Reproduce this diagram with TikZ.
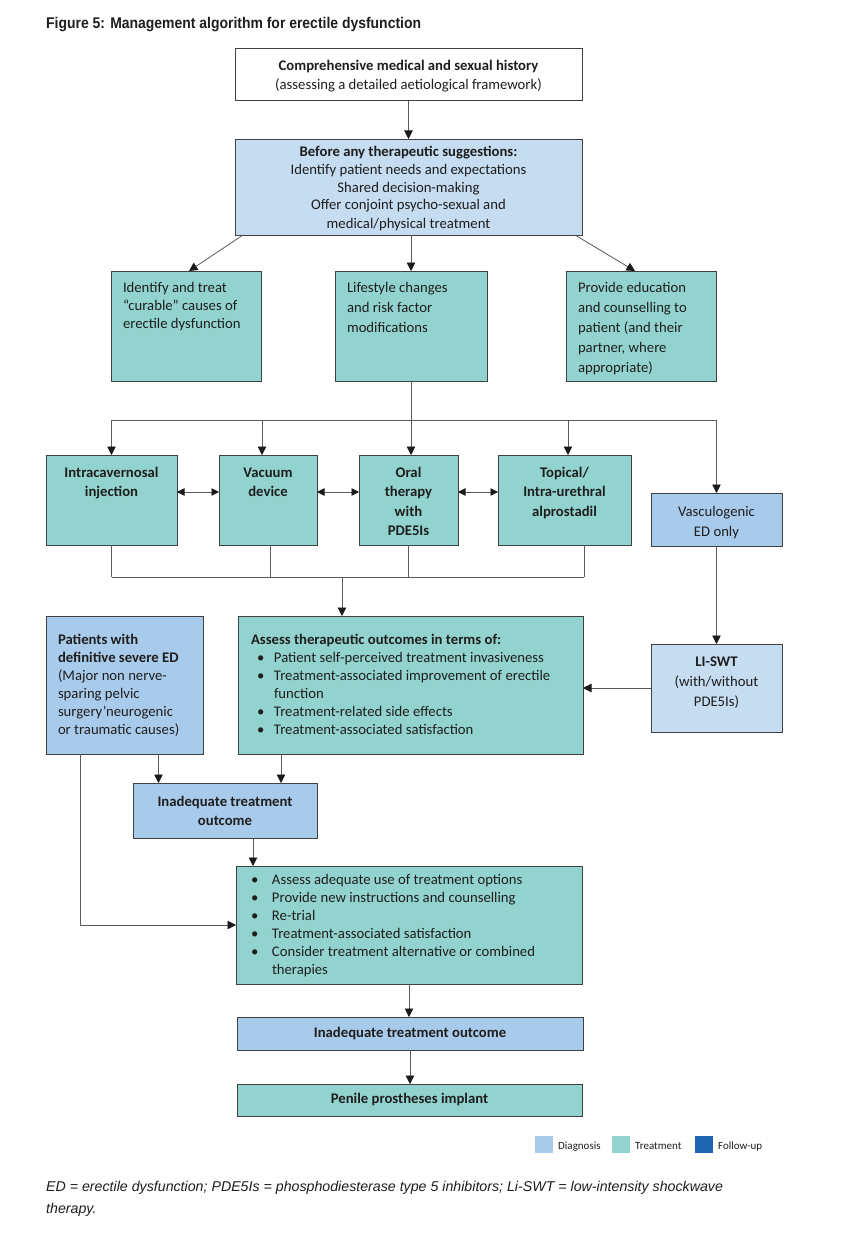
\documentclass[tikz,border=0pt]{standalone}
\usepackage{fontspec}
\setmainfont{Carlito}
\newfontfamily\titlefont[FakeStretch=0.9]{Liberation Sans}
\newfontfamily\notefont{Liberation Sans}
\usetikzlibrary{arrows.meta}
\definecolor{treat}{HTML}{92D3CF}
\definecolor{diag}{HTML}{A9CBEB}
\definecolor{light}{HTML}{C6DCF0}
\definecolor{follow}{HTML}{1F65B0}
\definecolor{bordc}{HTML}{404040}
\definecolor{linec}{HTML}{5A5A5A}
\definecolor{tipc}{HTML}{1A1A1A}
\definecolor{txt}{HTML}{1E1E1E}
\newcommand\bt[5]{\begin{minipage}[c][#2][t]{#1}#3\vspace*{#4}\strut #5\end{minipage}}
\newcommand\fc[1]{\fontsize{14.7}{#1}\selectfont\centering}
\newcommand\fl[2]{\fontsize{14.7}{#1}\selectfont\raggedright\leftskip=#2\relax}
\newcommand\bul[1]{\makebox[#1][l]{\textbullet}}
\tikzset{
  box/.style={draw=bordc, line width=1pt, inner sep=0pt, outer sep=0pt, anchor=north west, text=txt},
  conn/.style={draw=linec, line width=0.8pt},
  arr/.style={conn, -{Triangle[length=8.5pt,width=8.5pt,color=tipc]}},
  darr/.style={conn, {Triangle[length=7.5pt,width=7.5pt,color=tipc]}-{Triangle[length=7.5pt,width=7.5pt,color=tipc]}},
}
\begin{document}
\begin{tikzpicture}[x=1pt,y=-1pt]
\useasboundingbox[fill=white] (0,0) rectangle (852,1244);
% title
\node[anchor=base west, inner sep=0pt, text=txt] (title) at (46,29) {\titlefont\bfseries\fontsize{15.5}{18}\selectfont Figure 5: Management algorithm for erectile dysfunction};
% boxes
\node[box, fill=white] (b1) at (235,49) {\bt{347pt}{52pt}{\fc{19}}{8.7pt}{\textbf{Comprehensive medical and sexual history}\\(assessing a detailed aetiological framework)}};
\node[box, fill=light] (b2) at (235,139) {\bt{347pt}{96pt}{\fc{18}}{4.4pt}{\textbf{Before any therapeutic suggestions:}\\Identify patient needs and expectations\\Shared decision-making\\Offer conjoint psycho-sexual and\\medical/physical treatment}};
\node[box, fill=treat] (b3a) at (111,271) {\bt{150pt}{110pt}{\fl{18}{12pt}}{8.4pt}{Identify and treat\\“curable” causes of\\erectile dysfunction}};
\node[box, fill=treat] (b3b) at (335,271) {\bt{152pt}{110pt}{\fl{20}{12pt}}{7pt}{Lifestyle changes\\and risk factor\\modifications}};
\node[box, fill=treat] (b3c) at (566,271) {\bt{150pt}{110pt}{\fl{20}{12pt}}{7pt}{Provide education\\and counselling to\\patient (and their\\partner, where\\appropriate)}};
\node[box, fill=treat] (b4a) at (46,455) {\bt{131pt}{90pt}{\fc{19.3}\bfseries}{9pt}{Intracavernosal\\injection}};
\node[box, fill=treat] (b4b) at (219,455) {\bt{98pt}{90pt}{\fc{19.3}\bfseries}{9pt}{Vacuum\\device}};
\node[box, fill=treat] (b4c) at (359,455) {\bt{99pt}{90pt}{\fc{19.3}\bfseries}{9pt}{Oral\\therapy\\with\\PDE5Is}};
\node[box, fill=treat] (b4d) at (498,455) {\bt{133pt}{90pt}{\fc{19.3}\bfseries}{9pt}{Topical/\\Intra-urethral\\alprostadil}};
\node[box, fill=diag] (vasc) at (651,493) {\bt{131pt}{53pt}{\fc{20}}{9pt}{Vasculogenic\\ED only}};
\node[box, fill=diag] (b5) at (46,616) {\bt{157pt}{138pt}{\fl{18}{12pt}}{16pt}{\textbf{Patients with}\\\textbf{definitive severe ED}\\(Major non nerve-\\sparing pelvic\\surgery’neurogenic\\or traumatic causes)}};
\node[box, fill=treat] (b6) at (238,616) {\bt{345pt}{138pt}{\fl{18}{13pt}}{16pt}{\textbf{Assess therapeutic outcomes in terms of:}\\
\hspace*{6pt}\bul{17pt}Patient self-perceived treatment invasiveness\\
\hspace*{6pt}\bul{17pt}Treatment-associated improvement of erectile\\
\hspace*{23pt}function\\
\hspace*{6pt}\bul{17pt}Treatment-related side effects\\
\hspace*{6pt}\bul{17pt}Treatment-associated satisfaction}};
\node[box, fill=light] (li) at (651,644) {\bt{131pt}{88pt}{\fc{20}}{8pt}{\textbf{LI-SWT}\\(with/without\\PDE5Is)}};
\node[box, fill=diag] (b7) at (133,783) {\bt{184pt}{55pt}{\fc{19}\bfseries}{9.7pt}{Inadequate treatment\\outcome}};
\node[box, fill=treat] (b8) at (236,866) {\bt{346pt}{118pt}{\fl{18}{13pt}}{5.4pt}{\hspace*{2pt}\bul{21pt}Assess adequate use of treatment options\\
\hspace*{2pt}\bul{21pt}Provide new instructions and counselling\\
\hspace*{2pt}\bul{21pt}Re-trial\\
\hspace*{2pt}\bul{21pt}Treatment-associated satisfaction\\
\hspace*{2pt}\bul{21pt}Consider treatment alternative or combined\\
\hspace*{23pt}therapies}};
\node[box, fill=diag] (b9) at (237,1017) {\bt{346pt}{33pt}{\fc{18}\bfseries}{7.4pt}{Inadequate treatment outcome}};
\node[box, fill=treat] (b10) at (237,1084) {\bt{345pt}{32pt}{\fc{18}\bfseries}{6.4pt}{Penile prostheses implant}};
% connectors
\draw[arr] (b1.south) -- (b2.north);
\draw[arr] (b2.south -| b3b.north) -- (b3b.north);
\draw[arr] ([xshift=8pt]b2.south west) -- ([xshift=3pt]b3a.north);
\draw[arr] ([xshift=-7pt]b2.south east) -- ([xshift=-6pt]b3c.north);
\coordinate (busC) at (411,420);
\coordinate (busL) at (111.5,420);
\coordinate (busB) at (262,420);
\coordinate (busD) at (568,420);
\coordinate (busR) at (716.5,420);
\draw[conn] (b3b.south) -- (busC);
\draw[conn] (busL) -- (busR);
\draw[arr] (busL) -- (busL |- b4a.north);
\draw[arr] (busB) -- (busB |- b4b.north);
\draw[arr] (busC) -- (busC |- b4c.north);
\draw[arr] (busD) -- (busD |- b4d.north);
\draw[arr] (busR) -- (vasc.north);
\draw[darr] ([yshift=8pt]b4a.east) -- ([yshift=8pt]b4b.west);
\draw[darr] ([yshift=8pt]b4b.east) -- ([yshift=8pt]b4c.west);
\draw[darr] ([yshift=8pt]b4c.east) -- ([yshift=8pt]b4d.west);
\coordinate (lbL) at (111.5,577);
\coordinate (lbR) at (584,577);
\coordinate (lbA) at (342,577);
\draw[conn] (b4a.south) -- (lbL);
\draw[conn] ([xshift=2pt]b4b.south) -- ++(0,32);
\draw[conn] (b4c.south) -- ++(0,32);
\draw[conn] ([xshift=19.5pt]b4d.south) -- ++(0,32);
\draw[conn] (lbL) -- (lbR);
\draw[arr] (lbA) -- (lbA |- b6.north);
\draw[arr] (vasc.south) -- (li.north);
\draw[arr] (li.west) -- (li.west -| b6.east);
\coordinate (cornerL) at (80,925);
\draw[conn] (b5.south -| cornerL) -- (cornerL);
\draw[arr] (cornerL) -- (cornerL -| b8.west);
\draw[arr] ([xshift=34pt]b5.south) -- ([xshift=34pt]b5.south |- b7.north);
\draw[arr] ([xshift=-129.5pt]b6.south) -- ([xshift=-129.5pt]b6.south |- b7.north);
\draw[arr] ([xshift=28pt]b7.south) -- ([xshift=28pt]b7.south |- b8.north);
\draw[arr] (b8.south) -- (b8.south |- b9.north);
\draw[arr] (b9.south) -- (b9.south |- b10.north);
% legend
\node[fill=diag, minimum width=18pt, minimum height=17pt, inner sep=0pt, anchor=north west] (lg1) at (535,1136) {};
\node[fill=treat, minimum width=18pt, minimum height=17pt, inner sep=0pt, anchor=north west] (lg2) at (612,1136) {};
\node[fill=follow, minimum width=18pt, minimum height=17pt, inner sep=0pt, anchor=north west] (lg3) at (695,1136) {};
\node[anchor=base west, inner sep=0pt, text=txt] (lt1) at (558,1149.5) {\fontsize{11}{13}\selectfont Diagnosis};
\node[anchor=base west, inner sep=0pt, text=txt] (lt2) at (635,1149.5) {\fontsize{11}{13}\selectfont Treatment};
\node[anchor=base west, inner sep=0pt, text=txt] (lt3) at (718,1149.5) {\fontsize{11}{13}\selectfont Follow-up};
% footnote
\node[anchor=north west, inner sep=0pt, align=left, text=txt, font={\notefont\itshape\fontsize{14.2}{22}\selectfont}] (note) at (46,1181) {ED = erectile dysfunction; PDE5Is = phosphodiesterase type 5 inhibitors; Li-SWT = low-intensity shockwave\\therapy.};
\end{tikzpicture}
\end{document}
